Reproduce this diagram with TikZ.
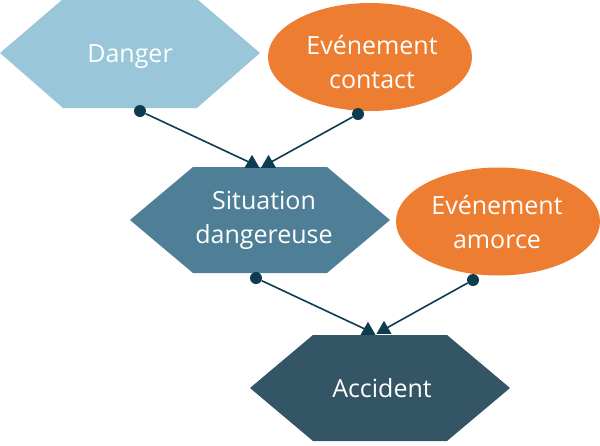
\documentclass[tikz,border=0pt]{standalone}
\usepackage{fontspec}
\setmainfont{Open Sans}
\usetikzlibrary{shapes.geometric}
\definecolor{cDanger}{HTML}{9AC6DA}
\definecolor{cSit}{HTML}{4E7F96}
\definecolor{cAcc}{HTML}{345565}
\definecolor{cOr}{HTML}{ED7D31}
\definecolor{cLine}{HTML}{0D3B50}
\tikzset{
  lbl/.style={text=white, font=\fontsize{25}{33.5}\selectfont, align=center, inner sep=0pt, anchor=base},
  ev/.style={ellipse, fill=cOr, draw=none, inner sep=0pt, minimum width=204pt, minimum height=108pt},
  dotn/.style={circle, fill=cLine, inner sep=0pt, minimum size=12pt},
  tri/.style={regular polygon, regular polygon sides=3, fill=cLine, inner sep=0pt, minimum size=17.3pt, anchor=side 2},
  conn/.style={draw=cLine, line width=1.6pt},
}
\begin{document}
\begin{tikzpicture}[x=1pt,y=-1pt]
\useasboundingbox (0,0) rectangle (600,445);
% hexagons
\fill[cDanger] (0,53) -- (63,-1) -- (197,-1) -- (260,53) -- (197,108) -- (63,108) -- cycle;
\fill[cSit] (130,220) -- (193,167) -- (327,167) -- (390,220) -- (327,273) -- (193,273) -- cycle;
\fill[cAcc] (250,388) -- (313,335) -- (447,335) -- (510,388) -- (447,441) -- (313,441) -- cycle;
% ellipses
\node[ev] (contact) at (370,57) {};
\node[ev] (amorce) at (498,221.5) {};
% labels
\node[lbl] (danger) at (130,62) {Danger};
\node[lbl] (sit) at (264,243) {Situation\\dangereuse};
\node[lbl] (acc) at (382,397) {Accident};
\node[lbl] (contactT) at (372,88) {Evénement\\contact};
\node[lbl] (amorceT) at (497,248) {Evénement\\amorce};
% dots
\node[dotn] (d1) at (140,111) {};
\node[dotn] (d2) at (358,114) {};
\node[dotn] (d3) at (256,278) {};
\node[dotn] (d4) at (473,280) {};
% triangles
\node[tri] (t1) at (252,168) {};
\node[tri] (t2) at (268.5,168) {};
\node[tri] (t3) at (368,335) {};
\node[tri] (t4) at (384,334) {};
% connectors
\draw[conn] (d1) -- (t1.center);
\draw[conn] (d2) -- (t2.center);
\draw[conn] (d3) -- (t3.center);
\draw[conn] (d4) -- (t4.center);
\end{tikzpicture}
\end{document}
